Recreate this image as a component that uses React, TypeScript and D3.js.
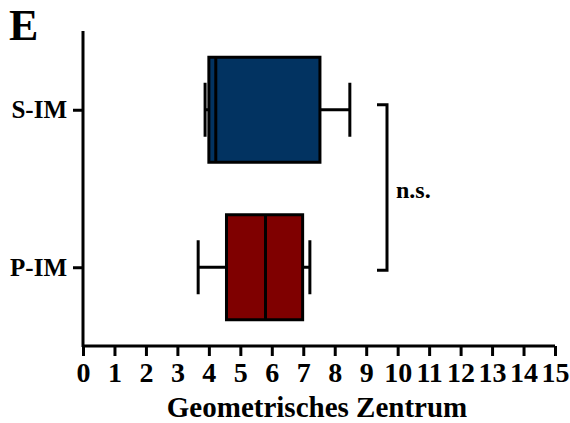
import { useEffect, useRef } from 'react';
import * as d3 from 'd3';

const groups = ['S-IM', 'P-IM'];
const whiskerLow = [3.88, 3.66];
const q1 = [4.0, 4.56];
const median = [4.22, 5.8];
const q3 = [7.53, 6.98];
const whiskerHigh = [8.48, 7.21];
const boxColors = ['#023361', '#7f0000'];
const xTicks = d3.range(0, 16);

export default function App() {
  const ref = useRef<SVGSVGElement>(null);

  useEffect(() => {
    const svg = d3.select(ref.current);
    svg.selectAll('*').remove();
    const font = '"Liberation Serif", "Times New Roman", serif';

    const x = d3.scaleLinear().domain([0, 15]).range([83, 555]);
    const y = d3.scalePoint().domain(groups).range([31, 346]).padding(0.5);

    const data = groups.map((g, i) => ({
      g, lo: whiskerLow[i], q1: q1[i], med: median[i], q3: q3[i], hi: whiskerHigh[i], color: boxColors[i],
    }));

    const boxH = 105;
    const capH = 54;

    const g = svg.append('g');
    data.forEach((d) => {
      const cy = y(d.g)!;
      const s = g.append('g').attr('stroke', '#000').attr('stroke-width', 3);
      s.append('line').attr('x1', x(d.lo)).attr('x2', x(d.q1)).attr('y1', cy).attr('y2', cy);
      s.append('line').attr('x1', x(d.q3)).attr('x2', x(d.hi)).attr('y1', cy).attr('y2', cy);
      s.append('line').attr('x1', x(d.lo)).attr('x2', x(d.lo)).attr('y1', cy - capH / 2).attr('y2', cy + capH / 2);
      s.append('line').attr('x1', x(d.hi)).attr('x2', x(d.hi)).attr('y1', cy - capH / 2).attr('y2', cy + capH / 2);
      s.append('rect')
        .attr('x', x(d.q1)).attr('y', cy - boxH / 2)
        .attr('width', x(d.q3) - x(d.q1)).attr('height', boxH)
        .attr('fill', d.color);
      s.append('line').attr('x1', x(d.med)).attr('x2', x(d.med)).attr('y1', cy - boxH / 2).attr('y2', cy + boxH / 2);
    });

    // x axis
    const xAxis = svg.append('g')
      .attr('transform', 'translate(0,346)')
      .call(d3.axisBottom(x).tickValues(xTicks).tickFormat(d3.format('d')).tickSize(10).tickSizeOuter(0));
    xAxis.select('.domain').attr('stroke', '#000').attr('stroke-width', 3).attr('d', `M${x(0)},0H${x(15)}`);
    xAxis.selectAll('.tick line').attr('stroke', '#000').attr('stroke-width', 3);
    xAxis.selectAll('.tick text')
      .attr('y', 36).attr('dy', 0)
      .attr('font-family', font).attr('font-size', 28).attr('font-weight', 'bold').attr('fill', '#000');

    // y axis
    const yAxis = svg.append('g')
      .attr('transform', 'translate(83,0)')
      .call(d3.axisLeft(y).tickSize(10).tickSizeOuter(0));
    yAxis.select('.domain').attr('stroke', '#000').attr('stroke-width', 3).attr('d', 'M0,31V347');
    yAxis.selectAll('.tick line').attr('stroke', '#000').attr('stroke-width', 3);
    yAxis.selectAll('.tick text')
      .attr('x', -16)
      .attr('font-family', font).attr('font-size', 25).attr('font-weight', 'bold').attr('fill', '#000');

    // significance bracket
    const bx = 387;
    const yTop = y('S-IM')! - 5;
    const yBot = y('P-IM')! + 3;
    svg.append('path')
      .attr('d', `M${bx - 10},${yTop}H${bx}V${yBot}H${bx - 10}`)
      .attr('fill', 'none').attr('stroke', '#000').attr('stroke-width', 3);
    svg.append('text')
      .attr('x', 396).attr('y', 198)
      .attr('font-family', font).attr('font-size', 24).attr('font-weight', 'bold')
      .text('n.s.');

    svg.append('text')
      .attr('x', (x(0) + x(15)) / 2 - 2).attr('y', 417)
      .attr('text-anchor', 'middle')
      .attr('font-family', font).attr('font-size', 29).attr('font-weight', 'bold')
      .text('Geometrisches Zentrum');

    svg.append('text')
      .attr('x', 9).attr('y', 40)
      .attr('font-family', font).attr('font-size', 44).attr('font-weight', 'bold')
      .text('E');
  }, []);

  return (
    <svg
      ref={ref}
      width={570}
      height={423}
      style={{ position: 'absolute', left: 0, top: 0, background: '#fff' }}
    />
  );
}
